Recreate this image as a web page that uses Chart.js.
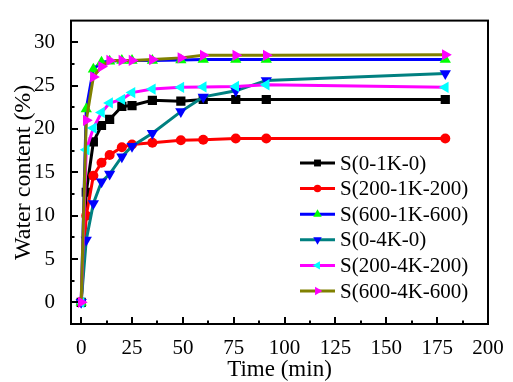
<!DOCTYPE html>
<html>
<head>
<meta charset="utf-8">
<script src="https://cdn.jsdelivr.net/npm/chart.js@4"></script>
<style>
  html, body { margin: 0; padding: 0; background: #fff; }
  #wrap { width: 513px; height: 382px; }
</style>
</head>
<body>
<div id="wrap"><canvas id="myChart" width="513" height="382"></canvas></div>
<script>
// time points (min) and water content (%) per sample
const times = [0, 2.5, 6, 10, 14, 20, 25, 35, 49, 60, 76, 91, 179];
const s01K0 = [0, 12.7, 18.5, 20.4, 21.1, 22.6, 22.7, 23.3, 23.2, 23.4, 23.4, 23.4, 23.4];
const s2001K200 = [0, 10.0, 14.6, 16.1, 17.0, 17.9, 18.2, 18.4, 18.7, 18.75, 18.9, 18.9, 18.9];
const s6001K600 = [0, 22.3, 26.9, 27.7, 27.8, 27.9, 27.9, 27.9, 27.95, 28.0, 28.0, 28.0, 28.0];
const s04K0 = [0, 7.2, 11.4, 13.9, 14.8, 16.8, 18.0, 19.5, 22.0, 23.7, 24.4, 25.6, 26.4];
const s2004K200 = [0, 17.6, 20.1, 21.9, 23.0, 23.4, 24.2, 24.6, 24.8, 24.85, 24.9, 25.1, 24.8];
const s6004K600 = [0, 21.0, 26.0, 27.2, 27.9, 27.9, 27.9, 28.0, 28.2, 28.5, 28.5, 28.5, 28.55];
const seriesLabels = ['S(0-1K-0)', 'S(200-1K-200)', 'S(600-1K-600)', 'S(0-4K-0)', 'S(200-4K-200)', 'S(600-4K-600)'];
const xTickValues = [0, 25, 50, 75, 100, 125, 150, 175, 200];
const yTickValues = [0, 5, 10, 15, 20, 25, 30];

const FONT = "'Liberation Serif', 'Times New Roman', serif";

function pts(arr) {
    return arr.map((v, i) => ({ x: times[i], y: v }));
}

function makeSet(idx, data, lineColor, markColor, style, rot, rad) {
    return {
        label: seriesLabels[idx],
        data: pts(data),
        order: 10 - idx, // later series drawn on top
        borderColor: lineColor,
        backgroundColor: markColor,
        pointBackgroundColor: markColor,
        pointBorderColor: markColor,
        pointBorderWidth: 0,
        pointStyle: style,
        pointRotation: rot,
        pointRadius: rad,
        borderWidth: 3,
        tension: 0
    };
}

// inward ticks, box frame and inside legend
const framePlugin = {
    id: 'frame',
    afterDatasetsDraw(chart) {
        const ctx = chart.ctx;
        const a = chart.chartArea;
        const xs = chart.scales.x, ys = chart.scales.y;
        ctx.save();
        ctx.strokeStyle = '#000';
        ctx.lineWidth = 2;
        // x ticks
        for (let v = 0; v <= 200; v += 12.5) {
            const px = Math.round(xs.getPixelForValue(v));
            const len = (v % 25 === 0) ? 7 : 3.5;
            ctx.beginPath();
            ctx.moveTo(px, a.bottom);
            ctx.lineTo(px, a.bottom - len);
            ctx.stroke();
        }
        // y ticks
        for (let v = 0; v <= 30; v += 2.5) {
            const py = Math.round(ys.getPixelForValue(v));
            const len = (v % 5 === 0) ? 7 : 3.5;
            ctx.beginPath();
            ctx.moveTo(a.left, py);
            ctx.lineTo(a.left + len, py);
            ctx.stroke();
        }
        ctx.strokeRect(a.left, a.top, a.right - a.left, a.bottom - a.top);

        // legend
        const lx = 300, ly = 163, step = 25.6;
        ctx.font = '21px ' + FONT;
        ctx.textBaseline = 'middle';
        chart.data.datasets.forEach((ds, i) => {
            const y = ly + i * step;
            ctx.strokeStyle = ds.borderColor;
            ctx.lineWidth = 3;
            ctx.beginPath();
            ctx.moveTo(lx, y);
            ctx.lineTo(lx + 35, y);
            ctx.stroke();
            ctx.fillStyle = ds.pointBackgroundColor;
            ctx.strokeStyle = ds.pointBorderColor;
            Chart.helpers.drawPoint(ctx, {
                pointStyle: ds.pointStyle,
                rotation: ds.pointRotation,
                radius: ds.pointRadius * 0.75,
                borderWidth: 0
            }, lx + 17.5, y);
            ctx.fillStyle = '#000';
            ctx.fillText(ds.label, lx + 40, y + 1);
        });
        ctx.restore();
    }
};

const ctx = document.getElementById('myChart').getContext('2d');
const myChart = new Chart(ctx, {
    type: 'line',
    data: {
        datasets: [
            makeSet(0, s01K0, '#000000', '#000000', 'rect', 0, 6.5),
            makeSet(1, s2001K200, '#ff0000', '#ff0000', 'circle', 0, 5),
            makeSet(2, s6001K600, '#0000ff', '#00ff00', 'triangle', 0, 6.5),
            makeSet(3, s04K0, '#008080', '#0000ff', 'triangle', 180, 6.5),
            makeSet(4, s2004K200, '#ff00ff', '#00ffff', 'triangle', 270, 6.5),
            makeSet(5, s6004K600, '#808000', '#ff00ff', 'triangle', 90, 6.5)
        ]
    },
    options: {
        responsive: false,
        animation: false,
        devicePixelRatio: 1,
        layout: { padding: { left: 0, top: 13, right: 25, bottom: 0 } },
        plugins: {
            legend: { display: false },
            tooltip: { enabled: false }
        },
        scales: {
            x: {
                type: 'linear',
                min: -5,
                max: 200,
                afterFit(scale) { scale.height = 58; },
                afterBuildTicks(scale) { scale.ticks = xTickValues.map(v => ({ value: v })); },
                grid: { display: false },
                border: { display: false },
                ticks: {
                    color: '#000',
                    padding: 4,
                    maxRotation: 0,
                    font: { family: FONT, size: 21 }
                },
                title: {
                    display: true,
                    text: 'Time (min)',
                    color: '#000',
                    padding: { top: 0, bottom: 1 },
                    font: { family: FONT, size: 23, lineHeight: 1.0 }
                }
            },
            y: {
                min: -2.5,
                max: 32.5,
                afterFit(scale) { scale.width = 71; },
                afterBuildTicks(scale) { scale.ticks = yTickValues.map(v => ({ value: v })); },
                grid: { display: false },
                border: { display: false },
                ticks: {
                    color: '#000',
                    padding: 8,
                    font: { family: FONT, size: 21 }
                },
                title: {
                    display: true,
                    text: 'Water content (%)',
                    color: '#000',
                    padding: { top: 9, bottom: 0 },
                    font: { family: FONT, size: 24 }
                }
            }
        }
    },
    plugins: [framePlugin]
});
</script>
</body>
</html>
